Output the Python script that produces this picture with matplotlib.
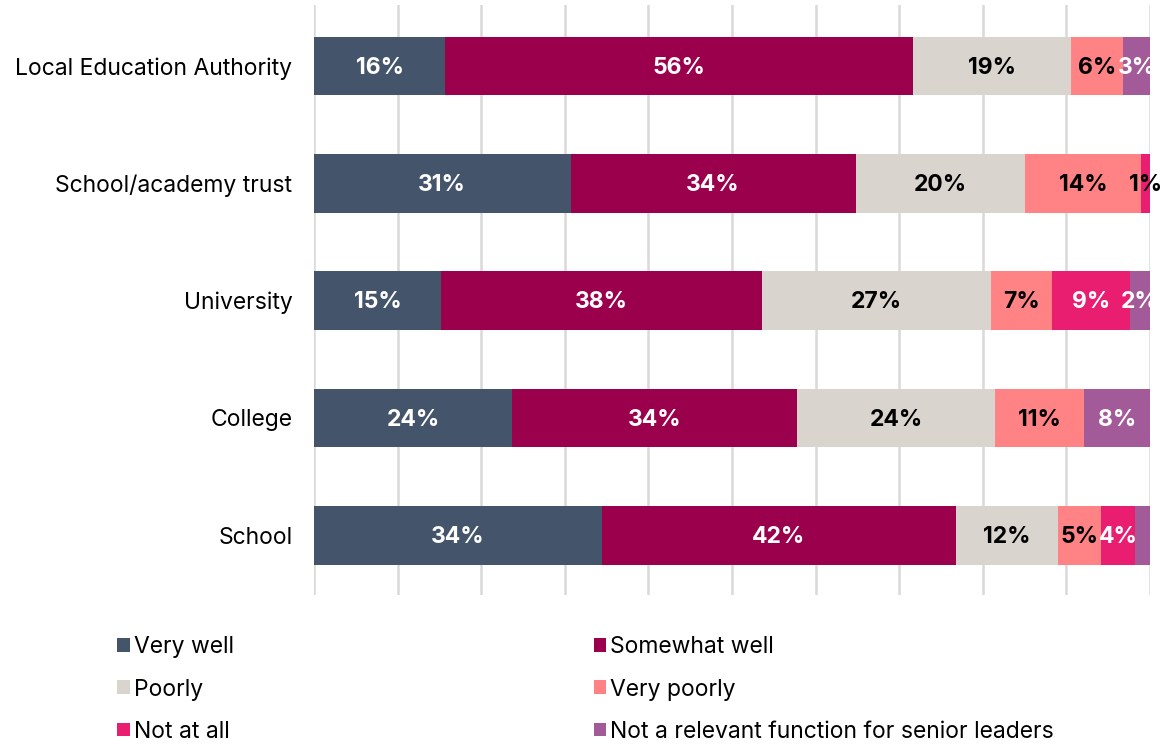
import matplotlib.pyplot as plt
import numpy as np

plt.rcParams['font.family'] = ['Inter', 'DejaVu Sans']

# Data (percent of respondents)
categories = ["School", "College", "University", "School/academy trust", "Local Education Authority"]
series_names = [
    "Very well",
    "Somewhat well",
    "Poorly",
    "Very poorly",
    "Not at all",
    "Not a relevant function for senior leaders",
]
very_well = [34.4, 23.7, 15.2, 30.7, 15.7]
somewhat_well = [42.4, 34.1, 38.4, 34.1, 56.0]
poorly = [12.2, 23.7, 27.4, 20.3, 18.8]
very_poorly = [5.1, 10.6, 7.3, 13.8, 6.3]
not_at_all = [4.1, 0.0, 9.3, 1.1, 0.0]
not_relevant = [1.8, 7.9, 2.4, 0.0, 3.2]
# the small School "not relevant" segment carries no label in the source
hide_label = {(5, 0)}

series = [very_well, somewhat_well, poorly, very_poorly, not_at_all, not_relevant]
colors = ["#44546A", "#9B004C", "#D9D4CE", "#FF8284", "#E91E71", "#A25B98"]
text_colors = ["white", "white", "black", "black", "white", "white"]

fig = plt.figure(figsize=(11.67, 7.46), dpi=100)
ax = fig.add_axes([0.269, 0.2024, 0.7165, 0.7909])

y = np.arange(len(categories))
left = np.zeros(len(categories))
for i, (vals, col) in enumerate(zip(series, colors)):
    vals = np.array(vals, dtype=float)
    ax.barh(y, vals, left=left, height=0.5, color=col, label=series_names[i], zorder=2)
    for j, v in enumerate(vals):
        if v <= 0 or (i, j) in hide_label:
            continue
        # tiny segments spill onto the white background -> dark text
        tc = "black" if v < 1.5 else text_colors[i]
        ax.text(left[j] + v / 2, y[j] - 0.015, f"{round(v)}%", ha="center", va="center",
                color=tc, fontsize=16.5, fontweight="bold", zorder=3)
    left += vals

ax.set_xlim(0, 100)
ax.set_ylim(-0.51, 4.52)
ax.set_xticks(np.arange(0, 101, 10))
ax.set_xticklabels([])
ax.tick_params(axis="x", length=0)
ax.tick_params(axis="y", length=0, pad=15.5, labelsize=16.5)
ax.set_yticks(y)
ax.set_yticklabels(categories)
ax.grid(axis="x", color="#D9D9D9", linewidth=1.8, zorder=0)
for s in ax.spines.values():
    s.set_visible(False)

handles, labels = ax.get_legend_handles_labels()
order = [0, 2, 4, 1, 3, 5]
fig.legend([handles[k] for k in order], [labels[k] for k in order],
           loc="upper left", bbox_to_anchor=(0.1006, 0.147), ncol=2,
           frameon=False, fontsize=16.5, handlelength=0.55, handleheight=0.55,
           handletextpad=0.17, columnspacing=15.7, labelspacing=0.88,
           borderaxespad=0, borderpad=0)

fig.savefig("out.png", dpi=100)
